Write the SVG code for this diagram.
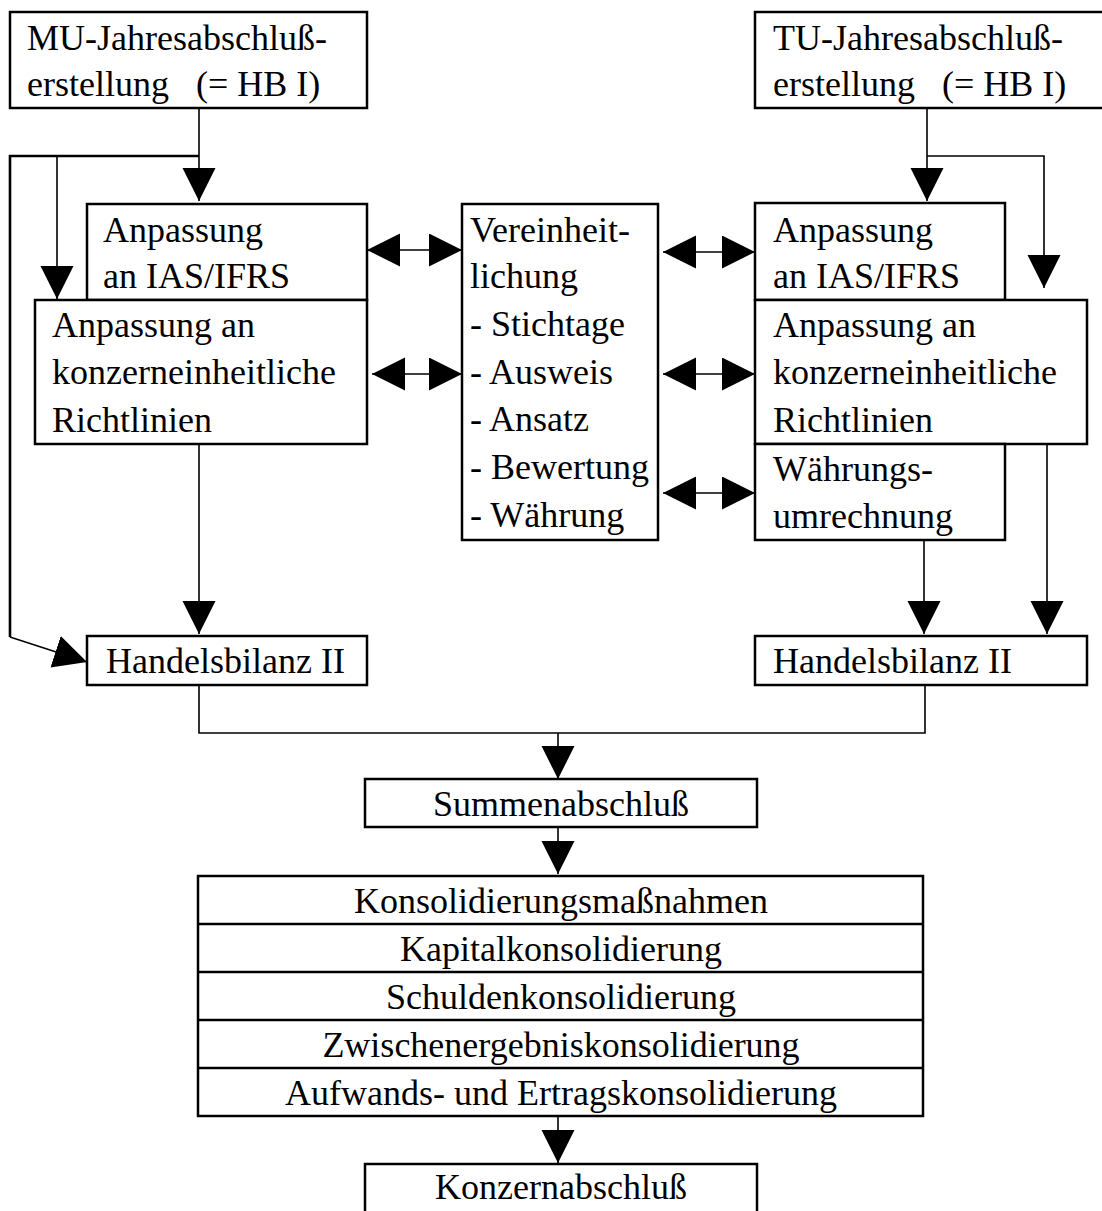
<svg xmlns="http://www.w3.org/2000/svg" width="1102" height="1211" viewBox="0 0 1102 1211">
<style>
.box{fill:#fff;stroke:#000;stroke-width:2.5}
.ln{fill:none;stroke:#000;stroke-width:1.6}
.thk{fill:none;stroke:#000;stroke-width:2.6}
text{font-family:"Liberation Serif","Times New Roman",serif;font-size:36px;fill:#000;white-space:pre}
.c{text-anchor:middle}
</style>
<defs>
<marker id="ah" markerUnits="userSpaceOnUse" markerWidth="34" markerHeight="34" refX="33" refY="16.5" orient="auto-start-reverse" viewBox="0 0 34 34">
<path d="M0,0 L33,16.5 L0,33 Z" fill="#000"/>
</marker>
</defs>
<rect width="1102" height="1211" fill="#fff"/>
<g id="connectors">
<path class="ln" d="M199,108 V201" marker-end="url(#ah)"/>
<path class="thk" d="M199,156 H10 V637"/>
<path class="ln" d="M10,637 L87,662" marker-end="url(#ah)"/>
<path class="ln" d="M57,156 V299" marker-end="url(#ah)"/>
<path class="ln" d="M199,444 V634" marker-end="url(#ah)"/>
<path class="ln" d="M199,685 V733 H925 V685"/>
<path class="ln" d="M558,733 V779" marker-end="url(#ah)"/>
<path class="ln" d="M558,827 V874" marker-end="url(#ah)"/>
<path class="ln" d="M558,1115 V1163" marker-end="url(#ah)"/>
<path class="ln" d="M927,108 V201" marker-end="url(#ah)"/>
<path class="ln" d="M927,156 H1044 V288" marker-end="url(#ah)"/>
<path class="ln" d="M924,540 V634" marker-end="url(#ah)"/>
<path class="ln" d="M1047,444 V634" marker-end="url(#ah)"/>
<path class="ln" d="M367,250 H462" marker-start="url(#ah)" marker-end="url(#ah)"/>
<path class="ln" d="M372,374 H462" marker-start="url(#ah)" marker-end="url(#ah)"/>
<path class="ln" d="M663,252 H755" marker-start="url(#ah)" marker-end="url(#ah)"/>
<path class="ln" d="M663,374 H755" marker-start="url(#ah)" marker-end="url(#ah)"/>
<path class="ln" d="M663,493 H755" marker-start="url(#ah)" marker-end="url(#ah)"/>
</g>
<g id="mu">
<rect class="box" x="10" y="12" width="357" height="96"/>
<text x="27" y="50">MU-Jahresabschluß-</text>
<text x="27" y="96">erstellung   (= HB I)</text>
</g>
<g id="tu">
<rect class="box" x="755" y="12" width="360" height="96"/>
<text x="773" y="50">TU-Jahresabschluß-</text>
<text x="773" y="96">erstellung   (= HB I)</text>
</g>
<g id="ias-left">
<rect class="box" x="87" y="204" width="280" height="96"/>
<text x="103" y="242">Anpassung</text>
<text x="103" y="288">an IAS/IFRS</text>
</g>
<g id="konzern-left">
<rect class="box" x="35" y="300" width="332" height="144"/>
<text x="52" y="337">Anpassung an</text>
<text x="52" y="384">konzerneinheitliche</text>
<text x="52" y="432">Richtlinien</text>
</g>
<g id="hb2-left">
<rect class="box" x="87" y="636" width="280" height="49"/>
<text x="106" y="673">Handelsbilanz II</text>
</g>
<g id="vereinheitlichung">
<rect class="box" x="462" y="204" width="196" height="336"/>
<text x="470" y="242">Vereinheit-</text>
<text x="470" y="288">lichung</text>
<text x="470" y="336">- Stichtage</text>
<text x="470" y="384">- Ausweis</text>
<text x="470" y="431">- Ansatz</text>
<text x="470" y="479">- Bewertung</text>
<text x="470" y="527">- Währung</text>
</g>
<g id="ias-right">
<rect class="box" x="755" y="203" width="250" height="97"/>
<text x="773" y="242">Anpassung</text>
<text x="773" y="288">an IAS/IFRS</text>
</g>
<g id="konzern-right">
<rect class="box" x="755" y="300" width="332" height="144"/>
<text x="773" y="337">Anpassung an</text>
<text x="773" y="384">konzerneinheitliche</text>
<text x="773" y="432">Richtlinien</text>
</g>
<g id="waehrung-right">
<rect class="box" x="755" y="444" width="250" height="96"/>
<text x="773" y="481">Währungs-</text>
<text x="773" y="528">umrechnung</text>
</g>
<g id="hb2-right">
<rect class="box" x="755" y="636" width="332" height="49"/>
<text x="773" y="673">Handelsbilanz II</text>
</g>
<g id="summenabschluss">
<rect class="box" x="365" y="779" width="392" height="48"/>
<text class="c" x="561" y="816">Summenabschluß</text>
</g>
<g id="konsolidierung">
<rect class="box" x="198" y="876" width="725" height="240"/>
<path class="thk" d="M198,924 H923 M198,972 H923 M198,1020 H923 M198,1068 H923"/>
<text class="c" x="561" y="913">Konsolidierungsmaßnahmen</text>
<text class="c" x="561" y="961">Kapitalkonsolidierung</text>
<text class="c" x="561" y="1009">Schuldenkonsolidierung</text>
<text class="c" x="561" y="1057">Zwischenergebniskonsolidierung</text>
<text class="c" x="561" y="1105">Aufwands- und Ertragskonsolidierung</text>
</g>
<g id="konzernabschluss">
<rect class="box" x="365" y="1164" width="392" height="60"/>
<text class="c" x="561" y="1199">Konzernabschluß</text>
</g>
</svg>
